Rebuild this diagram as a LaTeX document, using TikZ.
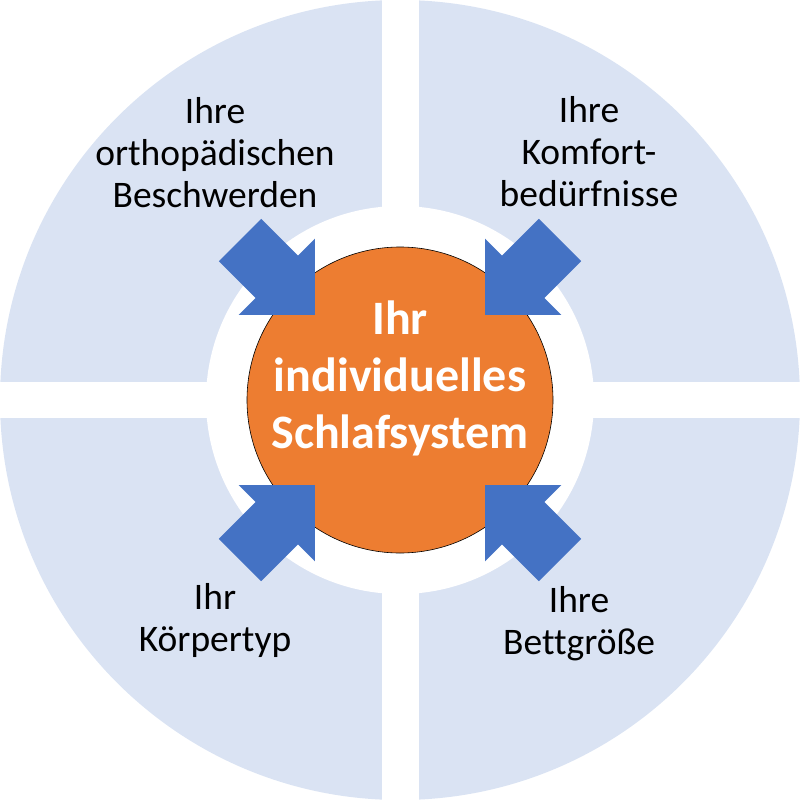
\documentclass[tikz,border=0pt]{standalone}
\usepackage{fontspec}
\setmainfont[Ligatures=NoCommon]{Carlito}
\definecolor{lightblue}{HTML}{DAE3F3}
\definecolor{arrowblue}{HTML}{4472C4}
\definecolor{centerorange}{HTML}{ED7D31}
\begin{document}
\begin{tikzpicture}[x=1pt,y=-1pt,
  outertext/.style={align=center,inner sep=0pt,text=black,font=\fontsize{37.5}{42}\selectfont},
  centertext/.style={align=center,inner sep=0pt,text=white,font=\fontsize{48}{57}\selectfont\bfseries},
  blockarrow/.pic={\fill[arrowblue] (0,-30) -- (52,-30) -- (52,-54) -- (106,0) -- (52,54) -- (52,30) -- (0,30) -- cycle;}]
\useasboundingbox (0,0) rectangle (800,800);
% outer ring
\fill[lightblue] (400,400) circle[radius=400];
% white cross gaps
\fill[white] (382,-5) rectangle (419,805);
\fill[white] (-5,382) rectangle (805,418);
% inner white circle
\fill[white] (400,400) circle[radius=194];
% orange centre
\node[circle,fill=centerorange,draw=black,line width=0.6pt,minimum size=306pt,inner sep=0pt] (core) at (400,400) {};
% arrows
\pic[rotate=-45] at (240,240) {blockarrow};
\pic[rotate=-135] at (560,240) {blockarrow};
\pic[rotate=45] at (240,560) {blockarrow};
\pic[rotate=135] at (560,560) {blockarrow};
% texts
\node[centertext] (ctext) at (400,378) {Ihr\\individuelles\\Schlafsystem};
\node[outertext] (tl) at (215,153) {Ihre\\orthopädischen\\Beschwerden};
\node[outertext] (tr) at (589,152) {Ihre\\Komfort-\\bedürfnisse};
\node[outertext] (bl) at (215,620) {Ihr\\Körpertyp};
\node[outertext] (br) at (579,624) {Ihre\\Bettgröße};
\end{tikzpicture}
\end{document}
